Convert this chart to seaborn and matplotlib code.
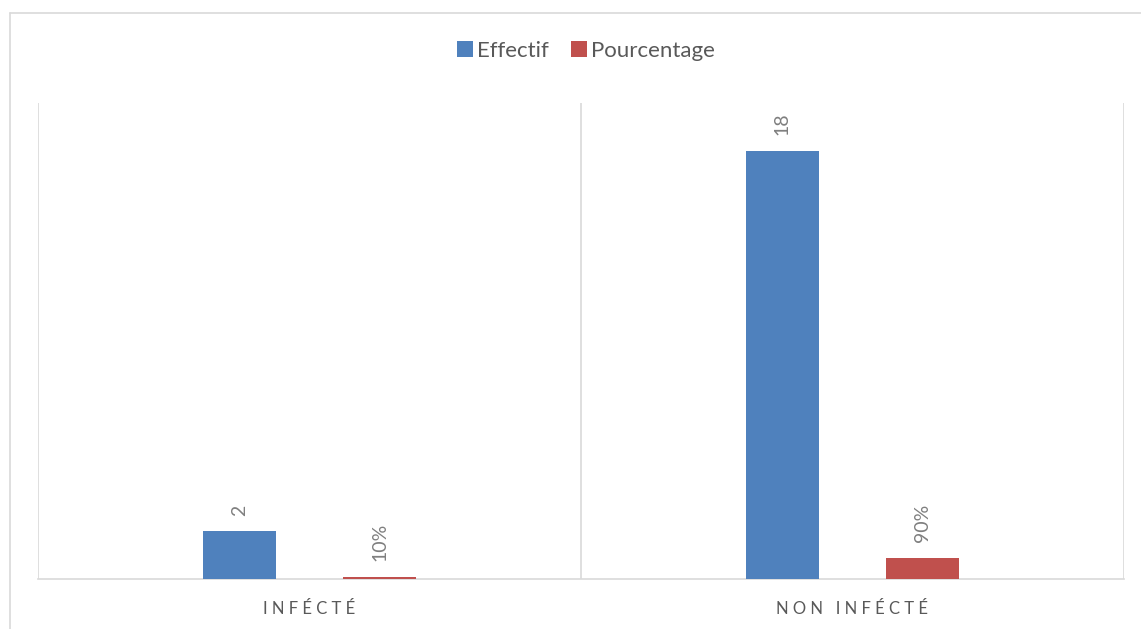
import matplotlib
matplotlib.use("Agg")
import matplotlib.pyplot as plt
from matplotlib.lines import Line2D
from matplotlib.patches import Patch
import pandas as pd
import seaborn as sns

# Data
categories = ["INFÉCTÉ", "NON INFÉCTÉ"]
category_labels = ["I N F É C T É", "N O N   I N F É C T É"]
effectif = [2, 18]
pourcentage = [0.10, 0.90]
series = ["Effectif", "Pourcentage"]

BLUE = "#4F81BD"
RED = "#C0504D"
GRID = "#D9D9D9"
TEXT = "#595959"
LABEL = "#7F7F7F"

df = pd.DataFrame({
    "Catégorie": categories * 2,
    "Valeur": effectif + pourcentage,
    "Série": [series[0]] * len(categories) + [series[1]] * len(categories),
})

sns.set_theme(style="white")
plt.rcParams["font.family"] = ["Lato", "DejaVu Sans"]

fig = plt.figure(figsize=(11.41, 6.29), dpi=100)
ax = fig.add_axes([38 / 1141, 1 - 579 / 629, (1124 - 38) / 1141, (579 - 103) / 629])

sns.barplot(data=df, x="Catégorie", y="Valeur", hue="Série",
            palette=[BLUE, RED], saturation=1, width=0.516, gap=0.48,
            order=categories, hue_order=series, legend=False,
            linewidth=0, ax=ax)

# Keep bars above the baseline so the small 10% bar stays visible
for patch in ax.patches:
    patch.set_zorder(3)

ax.set_xlim(-0.5, len(categories) - 0.5)
ax.set_ylim(0, 20)

# Value labels
value_texts = [
    [str(v) for v in effectif],
    [f"{v:.0%}" for v in pourcentage],
]
for container, labels in zip(ax.containers, value_texts):
    ax.bar_label(container, labels=labels, rotation=90, padding=11,
                 fontsize=14, color=LABEL)

# Category separators
for xpos in [i - 0.5 for i in range(len(categories) + 1)]:
    ax.axvline(xpos, color=GRID, lw=1.2, zorder=0)

for side in ["left", "right", "top"]:
    ax.spines[side].set_visible(False)
ax.spines["bottom"].set_color(GRID)
ax.spines["bottom"].set_linewidth(1.2)
ax.spines["bottom"].set_zorder(1)

ax.set_yticks([])
ax.set_xticks(range(len(categories)))
ax.set_xticklabels(category_labels, fontsize=12, color=TEXT)
ax.tick_params(axis="x", length=0, pad=16)
ax.set_xlabel("")
ax.set_ylabel("")

# Legend
handles = [Patch(facecolor=BLUE, edgecolor="none"), Patch(facecolor=RED, edgecolor="none")]
fig.legend(handles, series, loc="center", bbox_to_anchor=(586 / 1141, 1 - 51 / 629),
           ncol=2, frameon=False, fontsize=16, labelcolor=TEXT,
           handlelength=0.7, handleheight=0.7, handletextpad=0.2,
           columnspacing=1.0)

# Chart area border
fig.add_artist(Line2D([10 / 1141, 1.0], [1 - 13 / 629, 1 - 13 / 629],
                      transform=fig.transFigure, color=GRID, lw=1.2))
fig.add_artist(Line2D([10 / 1141, 10 / 1141], [0.0, 1 - 13 / 629],
                      transform=fig.transFigure, color=GRID, lw=1.2))

fig.savefig("out.png", dpi=100, facecolor="white")
